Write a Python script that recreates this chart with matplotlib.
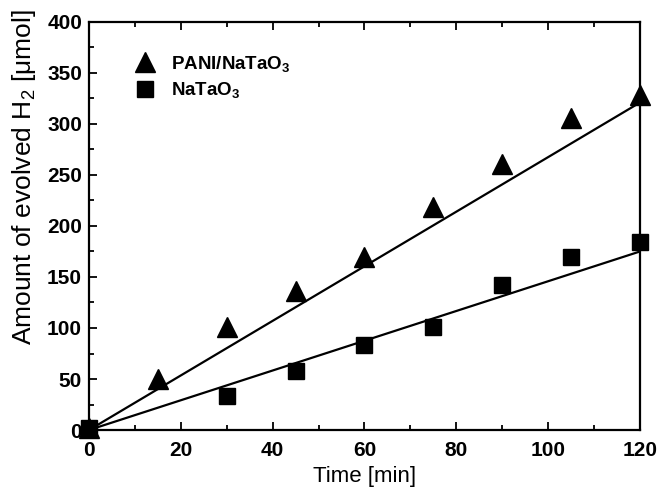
import numpy as np
import matplotlib.pyplot as plt
from matplotlib.ticker import MultipleLocator

plt.rcParams['font.family'] = ['Liberation Sans', 'DejaVu Sans']
plt.rcParams['mathtext.fontset'] = 'custom'
plt.rcParams['mathtext.rm'] = 'Liberation Sans'
plt.rcParams['mathtext.it'] = 'Liberation Sans'
plt.rcParams['mathtext.bf'] = 'Liberation Sans:bold'

# data
time_pani = [0, 15, 30, 45, 60, 75, 90, 105, 120]
h2_pani = [2, 50, 101, 136, 170, 219, 261, 306, 328]
time_nt = [0, 30, 45, 60, 75, 90, 105, 120]
h2_nt = [2, 33, 58, 83, 101, 142, 170, 184]

# linear fit end points
fit_x = [0, 120]
fit_pani = [0, 321]
fit_nt = [0, 175]

fig = plt.figure(figsize=(6.57, 4.95), dpi=100)
ax = fig.add_axes([0.1355, 0.1313, 0.8385, 0.8243])

ax.plot(fit_x, fit_pani, color="black", lw=1.6)
ax.plot(fit_x, fit_nt, color="black", lw=1.6)
ax.plot(time_pani, h2_pani, "^", color="black", ms=14, clip_on=False,
        label=r"PANI/NaTaO$_{\mathbf{3}}$")
ax.plot(time_nt, h2_nt, "s", color="black", ms=12, clip_on=False,
        label=r"NaTaO$_{\mathbf{3}}$")

ax.set_xlim(0, 120)
ax.set_ylim(0, 400)
ax.xaxis.set_major_locator(MultipleLocator(20))
ax.xaxis.set_minor_locator(MultipleLocator(10))
ax.yaxis.set_major_locator(MultipleLocator(50))
ax.yaxis.set_minor_locator(MultipleLocator(25))
ax.tick_params(which="both", direction="in", top=True, right=False, width=1.3)
ax.tick_params(which="major", length=6, labelsize=15, pad=5)
ax.tick_params(axis="x", which="major", pad=8)
ax.tick_params(which="minor", length=3.5)
for lab in ax.get_xticklabels() + ax.get_yticklabels():
    lab.set_fontweight("bold")
for s in ax.spines.values():
    s.set_linewidth(1.6)

ax.set_xlabel("Time [min]", fontsize=16, labelpad=4)
ax.set_ylabel(r"Amount of evolved H$_2$ [$\mu$mol]", fontsize=19)
ax.yaxis.set_label_coords(-0.092, 0.62)

ax.legend(loc="upper left", frameon=False, prop={"weight": "bold", "size": 13.5},
          handletextpad=0.4, borderaxespad=1.3, labelspacing=0.35,
          bbox_to_anchor=(0.01, 1.0))

plt.savefig("out.png", dpi=100)
